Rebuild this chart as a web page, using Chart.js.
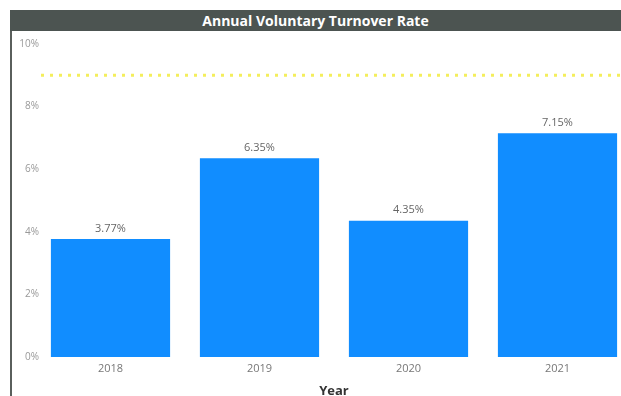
<!DOCTYPE html>
<html>
<head>
<meta charset="utf-8">
<script src="https://cdn.jsdelivr.net/npm/chart.js@4.4.1/dist/chart.umd.min.js"></script>
<style>
	html, body { margin: 0; padding: 0; background: #fff; }
	#wrap { position: relative; width: 621px; height: 396px; overflow: hidden; }
	#chartBox { position: absolute; left: 0; top: 0; width: 660px; height: 396px; }
	#frame { position: absolute; left: 10px; top: 10px; width: 611px; height: 386px; border-left: 2px solid #5a5f5c; box-sizing: border-box; pointer-events: none; }
	#titleBar {
		position: absolute; left: 10px; top: 10px; width: 611px; height: 21px;
		background: #4c5451; color: #fff; text-align: center;
		font: bold 14px "Open Sans", sans-serif; line-height: 21px;
	}
</style>
</head>
<body>
<div id="wrap">
	<div id="chartBox"><canvas id="turnover" width="660" height="396"></canvas></div>
	<div id="frame"></div>
	<div id="titleBar">Annual Voluntary Turnover Rate</div>
</div>
<script>
const years = ['2018', '2019', '2020', '2021'];
const turnoverRates = [3.77, 6.35, 4.35, 7.15];
const targetRate = 9;
const yTicks = [0, 2, 4, 6, 8, 10];

// labels above each bar, e.g. "3.77%"
const barLabels = {
	id: 'barLabels',
	afterDatasetsDraw(chart) {
		const ctx = chart.ctx;
		const meta = chart.getDatasetMeta(0);
		ctx.save();
		ctx.font = '11px "Open Sans", sans-serif';
		ctx.fillStyle = '#666';
		ctx.textAlign = 'center';
		ctx.textBaseline = 'bottom';
		meta.data.forEach((bar, i) => {
			ctx.fillText(turnoverRates[i].toFixed(2) + '%', bar.x, bar.y - 5);
		});
		ctx.restore();
	}
};

// y tick labels, right-aligned just past the left edge of the plot
const yLabels = {
	id: 'yLabels',
	afterDraw(chart) {
		const ctx = chart.ctx;
		const y = chart.scales.y;
		ctx.save();
		ctx.font = '10px "Open Sans", sans-serif';
		ctx.fillStyle = '#999';
		ctx.textAlign = 'right';
		ctx.textBaseline = 'middle';
		yTicks.forEach(v => {
			ctx.fillText(v + '%', chart.chartArea.left + 3, y.getPixelForValue(v));
		});
		ctx.restore();
	}
};

// dashed yellow target line
const targetLine = {
	id: 'targetLine',
	afterDatasetsDraw(chart) {
		const ctx = chart.ctx;
		const y = chart.scales.y.getPixelForValue(targetRate);
		ctx.save();
		ctx.strokeStyle = '#f4ee5c';
		ctx.lineWidth = 3;
		ctx.setLineDash([3, 6]);
		ctx.beginPath();
		ctx.moveTo(chart.chartArea.left + 5, y);
		ctx.lineTo(chart.chartArea.right, y);
		ctx.stroke();
		ctx.restore();
	}
};

new Chart(document.getElementById('turnover'), {
	type: 'bar',
	data: {
		labels: years,
		datasets: [{
			data: turnoverRates,
			backgroundColor: '#118dff',
			categoryPercentage: 0.8,
			barPercentage: 1
		}]
	},
	options: {
		responsive: false,
		animation: false,
		layout: { padding: { top: 44, left: 0, right: 28, bottom: 0 } },
		plugins: {
			legend: { display: false },
			tooltip: { enabled: false }
		},
		scales: {
			x: {
				grid: { display: false, drawTicks: false },
				border: { display: false },
				ticks: { color: '#777', font: { family: 'Open Sans', size: 11 }, padding: 5 },
				title: {
					display: true,
					text: 'Year',
					color: '#333',
					font: { family: 'Open Sans', size: 13, weight: 'bold' },
					padding: { top: 0, bottom: -3 }
				},
				afterFit(scale) { scale.height = 39; }
			},
			y: {
				min: 0,
				max: 10,
				afterBuildTicks(scale) { scale.ticks = yTicks.map(v => ({ value: v })); },
				grid: { display: false, drawTicks: false },
				border: { display: false },
				ticks: { display: false },
				afterFit(scale) { scale.width = 36; }
			}
		}
	},
	plugins: [barLabels, targetLine, yLabels]
});
</script>
</body>
</html>
